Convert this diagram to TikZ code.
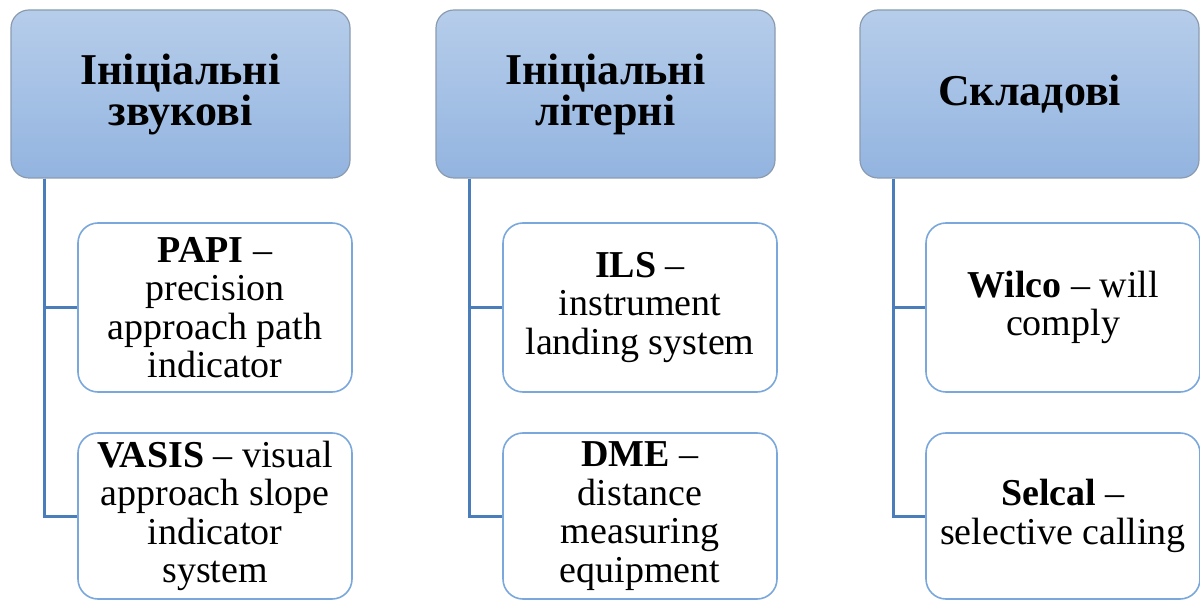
\documentclass[tikz,border=0pt]{standalone}
\usepackage{fontspec}
\setmainfont{Liberation Serif}
\definecolor{headtop}{HTML}{B6CDEA}
\definecolor{headbot}{HTML}{93B4E0}
\definecolor{headedge}{HTML}{8A9BB0}
\definecolor{leafedge}{HTML}{7AA7DC}
\definecolor{linkblue}{HTML}{4A7EBB}
\tikzset{
  headbox/.style={rectangle, rounded corners=18pt, draw=headedge, line width=1.2pt,
    top color=headtop, bottom color=headbot, minimum width=339pt, minimum height=168pt,
    align=center, inner sep=0pt, font=\fontsize{44}{41}\selectfont\bfseries},
  leafbox/.style={rectangle, rounded corners=20pt, draw=leafedge, line width=1.6pt,
    fill=white, minimum width=274pt, align=center, inner sep=0pt,
    font=\fontsize{38}{38.5}\selectfont},
  link/.style={draw=linkblue, line width=3pt}
}
\begin{document}
\begin{tikzpicture}[x=1pt,y=-1pt]
\useasboundingbox (0,0) rectangle (1200,601);
% column headers
\node[headbox] (h1) at (180.5,94) {Ініціальні\\звукові};
\node[headbox] (h2) at (605.5,94) {Ініціальні\\літерні};
\node[headbox] (h3) at (1029.5,94) {Складові};
% first column
\node[leafbox, minimum height=169pt] (a1) at (215,307.5) {\textbf{PAPI} –\\precision\\approach path\\indicator};
\node[leafbox, minimum height=166pt] (a2) at (215,516) {\textbf{VASIS} – visual\\approach slope\\indicator\\system};
% second column
\node[leafbox, minimum height=169pt] (b1) at (640,307.5) {\textbf{ILS} –\\instrument\\landing system};
\node[leafbox, minimum height=166pt] (b2) at (640,516) {\textbf{DME} –\\distance\\measuring\\equipment};
% third column
\node[leafbox, minimum height=169pt] (c1) at (1063,307.5) {\textbf{Wilco} – will\\comply};
\node[leafbox, minimum height=166pt] (c2) at (1063,516) {\textbf{Selcal} –\\selective calling};
% tree links
\foreach \h/\u/\v in {h1/a1/a2, h2/b1/b2, h3/c1/c2} {
  \draw[link] ([xshift=34pt]\h.south west) |- (\u.west);
  \draw[link] ([xshift=34pt]\h.south west) |- (\v.west);
}
\end{tikzpicture}
\end{document}
